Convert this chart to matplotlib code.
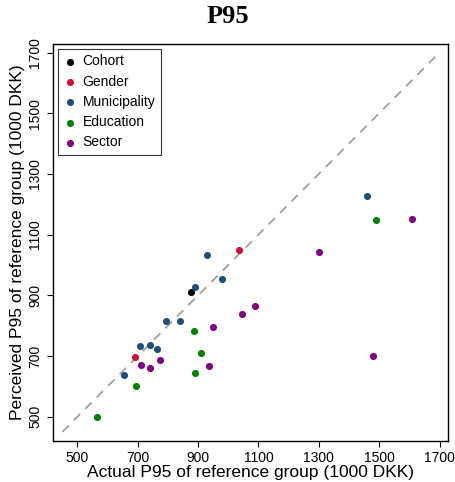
import matplotlib
matplotlib.use('Agg')
import matplotlib.pyplot as plt

plt.rcParams['font.family'] = ['Liberation Sans', 'DejaVu Sans']

# Actual vs perceived P95 per reference group (1000 DKK)
cohort_x = [877]
cohort_y = [911]

gender_x = [1034, 690]
gender_y = [1048, 698]

municipality_x = [929, 979, 889, 794, 840, 708, 739, 765, 653, 1460]
municipality_y = [1033, 955, 928, 815, 816, 732, 736, 723, 636, 1228]

education_x = [566, 694, 885, 911, 890, 1490]
education_y = [500, 601, 782, 711, 643, 1149]

sector_x = [1299, 1087, 1045, 948, 774, 711, 742, 937, 1479, 1610]
sector_y = [1043, 866, 837, 796, 687, 669, 660, 668, 700, 1151]

ticks = [500, 700, 900, 1100, 1300, 1500, 1700]

groups = [
    ('Cohort', cohort_x, cohort_y, 'black'),
    ('Gender', gender_x, gender_y, '#D0103A'),
    ('Municipality', municipality_x, municipality_y, '#1F4E79'),
    ('Education', education_x, education_y, '#008000'),
    ('Sector', sector_x, sector_y, '#800080'),
]

fig = plt.figure(figsize=(4.55, 4.82), dpi=100)
ax = fig.add_axes([0.1158, 0.0857, 0.8688, 0.823])

ax.plot([450, 1700], [450, 1700], color='#A0A0A0', linestyle=(0, (5, 4)), lw=1.3, zorder=1)

for name, xs, ys, col in groups:
    ax.scatter(xs, ys, s=26, color=col, label=name, zorder=3, linewidths=0)

ax.set_xlim(418, 1728)
ax.set_ylim(421, 1728)
ax.set_xticks(ticks)
ax.set_yticks(ticks)
ax.tick_params(direction='out', length=4, width=0.8, labelsize=10)
for lab in ax.get_yticklabels():
    lab.set_rotation(90)
    lab.set_va('center')
for s in ax.spines.values():
    s.set_linewidth(1.0)

ax.set_xlabel('Actual P95 of reference group (1000 DKK)', fontsize=12.5, labelpad=0)
ax.set_ylabel('Perceived P95 of reference group (1000 DKK)', fontsize=12.5, labelpad=2)
fig.suptitle('P95', fontsize=19, fontweight='bold', family='Liberation Serif', y=0.99)

leg = ax.legend(loc='upper left', fontsize=10, frameon=True, fancybox=False,
                edgecolor='black', handletextpad=0.4, borderaxespad=0.35,
                handlelength=1.0, labelspacing=0.45, scatterpoints=1)
leg.get_frame().set_linewidth(0.8)

fig.savefig('out.png', dpi=100)
